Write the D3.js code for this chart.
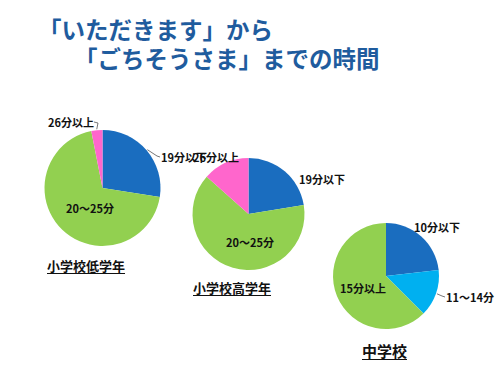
<!DOCTYPE html>
<html><head><meta charset="utf-8">
<script src="https://cdn.jsdelivr.net/npm/d3@7"></script>
<style>
html,body{margin:0;padding:0;background:#fff;}
text{font-family:"Noto Sans CJK JP","Noto Sans",sans-serif;}
</style></head>
<body><svg id="c" width="500" height="375"></svg>
<script>
// ---- data ----
const titleLines = ["「いただきます」から", "「ごちそうさま」までの時間"];
const elemCategories = ["19分以下", "20～25分", "26分以上"];
const elemLowValues = [27.5, 69.4, 3.1];
const elemHighValues = [22.4, 64.2, 13.4];
const juniorCategories = ["10分以下", "11～14分", "15分以上"];
const juniorValues = [23.2, 14.3, 62.5];
const chartNames = ["小学校低学年", "小学校高学年", "中学校"];

// ---- layout / style ----
const elemColors = ["#1A6DBF", "#92D050", "#FF66CC"];
const juniorColors = ["#1A6DBF", "#00B0F0", "#92D050"];
const charts = [
  {name: chartNames[0], cats: elemCategories, vals: elemLowValues, colors: elemColors,
   cx: 102.5, cy: 188, r: 58,
   labels: [{x:161,y:157,anchor:"start",leader:true},{x:90,y:208,anchor:"middle"},{x:48,y:122,anchor:"start",leader:true,fromEnd:true}],
   title: {x:47,y:265,size:13}},
  {name: chartNames[1], cats: elemCategories, vals: elemHighValues, colors: elemColors,
   cx: 248.5, cy: 214, r: 56,
   labels: [{x:299,y:179,anchor:"start"},{x:250,y:242,anchor:"middle"},{x:193,y:157,anchor:"start"}],
   title: {x:193,y:287,size:13}},
  {name: chartNames[2], cats: juniorCategories, vals: juniorValues, colors: juniorColors,
   cx: 386, cy: 276, r: 53,
   labels: [{x:414,y:227,anchor:"start"},{x:446,y:297,anchor:"start",leader:true},{x:340,y:288,anchor:"start"}],
   title: {x:362,y:350,size:15}}
];

const svg = d3.select("#c");

// title
const tcol = "#1F5C9E";
svg.append("text").attr("x", 38).attr("y", 29).attr("dominant-baseline","central")
  .attr("font-size", 23.5).attr("font-weight", "bold").attr("fill", tcol).text(titleLines[0]);
svg.append("text").attr("x", 74).attr("y", 58).attr("dominant-baseline","central")
  .attr("font-size", 23.5).attr("font-weight", "bold").attr("fill", tcol).text(titleLines[1]);

const pie = d3.pie().sort(null).value(d => d);

charts.forEach(ch => {
  const g = svg.append("g").attr("transform", `translate(${ch.cx},${ch.cy})`);
  const arcs = pie(ch.vals);
  const arc = d3.arc().innerRadius(0).outerRadius(ch.r);
  g.selectAll("path").data(arcs).join("path")
    .attr("d", arc).attr("fill", (d, i) => ch.colors[i]);

  // labels
  arcs.forEach((a, i) => {
    const L = ch.labels[i];
    const t = svg.append("text").attr("x", L.x).attr("y", L.y)
      .attr("text-anchor", L.anchor).attr("dominant-baseline", "central")
      .attr("font-size", 11).attr("font-weight", "bold").attr("fill", "#111")
      .text(ch.cats[i]);
    if (L.leader) {
      const mid = (a.startAngle + a.endAngle) / 2;
      const px = ch.cx + Math.sin(mid) * (ch.r + 1);
      const py = ch.cy - Math.cos(mid) * (ch.r + 1);
      const bb = t.node().getBBox();
      const lx = L.fromEnd ? bb.x + bb.width : bb.x - 1;
      const ly = L.y;
      svg.append("path")
        .attr("d", `M${px},${py} L${L.fromEnd ? lx + 4 : lx - 3},${ly + (L.fromEnd ? 1 : -1)} L${lx},${ly}`)
        .attr("fill", "none").attr("stroke", "#555").attr("stroke-width", 0.8);
    }
  });

  // chart title with underline
  const tt = svg.append("text").attr("x", ch.title.x).attr("y", ch.title.y)
    .attr("dominant-baseline", "central").attr("font-size", ch.title.size)
    .attr("font-weight", "bold").attr("fill", "#111").text(ch.name);
  const bb = tt.node().getBBox();
  svg.append("line").attr("x1", bb.x).attr("x2", bb.x + bb.width)
    .attr("y1", bb.y + bb.height - 1).attr("y2", bb.y + bb.height - 1)
    .attr("stroke", "#111").attr("stroke-width", 1);
});
</script></body></html>
